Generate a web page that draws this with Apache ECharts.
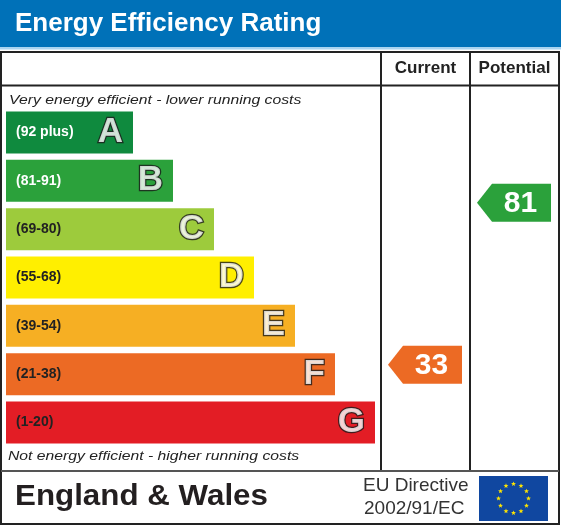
<!DOCTYPE html>
<html><head><meta charset="utf-8">
<script src="https://cdn.jsdelivr.net/npm/echarts@6/dist/echarts.min.js"></script>
<style>html,body{margin:0;padding:0;background:#fff}#c{width:561px;height:527px}</style>
</head><body><div id="c"></div>
<script>
// ---- data ----
const bands = ['A', 'B', 'C', 'D', 'E', 'F', 'G'];
const bandRanges = ['(92 plus)', '(81-91)', '(69-80)', '(55-68)', '(39-54)', '(21-38)', '(1-20)'];
const bandMin = [92, 81, 69, 55, 39, 21, 1];
const bandMax = [100, 91, 80, 68, 54, 38, 20];
const barLengths = [127, 167, 208, 248, 289, 329, 369];
const columns = ['Current', 'Potential'];
const ratings = [33, 81];

// ---- styles ----
const bandColors = ['#0f8a3e', '#2ba13b', '#9dcb3c', '#ffef00', '#f6af23', '#ec6a24', '#e31d25'];
const rangeTextColors = ['#ffffff', '#ffffff', '#222222', '#222222', '#222222', '#222222', '#222222'];
const FONT = '"Liberation Sans", Arial, Helvetica, sans-serif';

const chart = echarts.init(document.getElementById('c'), null, { renderer: 'canvas' });

const gridTop = 108.3, gridH = 338.4;

function starPoints(cx, cy, R, r) {
  const pts = [];
  for (let i = 0; i < 10; i++) {
    const a = -Math.PI / 2 + i * Math.PI / 5;
    const rr = i % 2 === 0 ? R : r;
    pts.push([cx + rr * Math.cos(a), cy + rr * Math.sin(a)]);
  }
  return pts;
}
const flagStars = [];
for (let k = 0; k < 12; k++) {
  const a = k * Math.PI / 6;
  flagStars.push({
    type: 'polygon', z: 10,
    shape: { points: starPoints(513.5 + 15 * Math.sin(a), 498.5 - 14.5 * Math.cos(a), 2.6, 1.1) },
    style: { fill: '#ffe500' }
  });
}

const option = {
  animation: false,
  backgroundColor: '#ffffff',
  grid: [
    { left: 6, top: gridTop, width: 375, height: gridH },
    { left: 381, top: gridTop, width: 178, height: gridH }
  ],
  xAxis: [
    { gridIndex: 0, type: 'value', min: 0, max: 375, show: false },
    {
      gridIndex: 1, type: 'category', data: columns, position: 'top',
      axisLine: { show: false }, axisTick: { show: false }, splitLine: { show: false },
      axisLabel: {
        interval: 0, hideOverlap: false, showMinLabel: true, showMaxLabel: true,
        margin: 39.5, verticalAlign: 'middle', color: '#222',
        fontFamily: FONT, fontWeight: 'bold', fontSize: 17
      }
    }
  ],
  yAxis: [
    { gridIndex: 0, type: 'category', data: bands, inverse: true, show: false },
    { gridIndex: 1, type: 'category', data: bands, inverse: true, show: false }
  ],
  series: [
    {
      type: 'bar', xAxisIndex: 0, yAxisIndex: 0,
      barCategoryGap: '13%',
      data: barLengths.map((v, i) => ({
        value: v,
        itemStyle: { color: bandColors[i] },
        label: { color: rangeTextColors[i] }
      })),
      label: {
        show: true, position: 'insideLeft', distance: 10,
        fontFamily: FONT, fontWeight: 'bold', fontSize: 14,
        formatter: p => bandRanges[p.dataIndex]
      }
    },
    {
      type: 'scatter', xAxisIndex: 0, yAxisIndex: 0,
      symbolSize: 0, silent: true,
      data: barLengths.map((v, i) => [v, i]),
      label: {
        show: true, position: 'left', distance: 10,
        formatter: p => bands[p.dataIndex],
        fontFamily: FONT, fontWeight: 'bold', fontSize: 35,
        color: '#ffffff', textBorderColor: '#1a1a1a', textBorderWidth: 2.5
      }
    },
    {
      type: 'custom', xAxisIndex: 1, yAxisIndex: 1,
      data: ratings.map((r, i) => [i, r]),
      renderItem: function (params, api) {
        const col = api.value(0), r = api.value(1);
        let b = bandMin.findIndex(m => r >= m);
        if (b < 0) b = bands.length - 1;
        const c = api.coord([col, b]);
        const sz = api.size([1, 1]);
        const colW = sz[0], bandH = sz[1];
        const frac = (bandMax[b] - r + 0.5) / (bandMax[b] - bandMin[b] + 1);
        const cy = c[1] - bandH / 2 + frac * bandH;
        const x0 = c[0] - colW / 2 + 7, x1 = c[0] + colW / 2 - 8;
        const tip = 15, h = 38;
        return {
          type: 'group',
          children: [
            {
              type: 'polygon',
              shape: { points: [[x0, cy], [x0 + tip, cy - h / 2], [x1, cy - h / 2], [x1, cy + h / 2], [x0 + tip, cy + h / 2]] },
              style: { fill: bandColors[b] }
            },
            {
              type: 'text', x: (x0 + tip + x1) / 2 - 1, y: cy + 1,
              style: {
                text: String(r), fill: '#ffffff', align: 'center', verticalAlign: 'middle',
                font: 'bold 30px ' + FONT
              }
            }
          ]
        };
      }
    }
  ],
  graphic: [
    { type: 'rect', shape: { x: 0, y: 0, width: 561, height: 47 }, style: { fill: '#0071b8' } },
    { type: 'rect', shape: { x: 0, y: 47, width: 561, height: 2.5 }, style: { fill: '#a9d4f0' } },
    {
      type: 'text', x: 15, y: 23.5,
      style: { text: 'Energy Efficiency Rating', fill: '#ffffff', font: 'bold 26px ' + FONT, verticalAlign: 'middle' }
    },
    { type: 'rect', shape: { x: 1, y: 52, width: 558, height: 472 }, style: { fill: null, stroke: '#222', lineWidth: 2 } },
    { type: 'line', shape: { x1: 1, y1: 85.5, x2: 559, y2: 85.5 }, style: { stroke: '#222', lineWidth: 2 } },
    { type: 'line', shape: { x1: 381, y1: 52, x2: 381, y2: 470 }, style: { stroke: '#222', lineWidth: 2 } },
    { type: 'line', shape: { x1: 470, y1: 52, x2: 470, y2: 470 }, style: { stroke: '#222', lineWidth: 2 } },
    { type: 'line', shape: { x1: 1, y1: 471, x2: 559, y2: 471 }, style: { stroke: '#555', lineWidth: 2 } },
    {
      type: 'text', x: 9, y: 100, scaleX: 1.21,
      style: { text: 'Very energy efficient - lower running costs', fill: '#222', font: 'italic 13px ' + FONT, verticalAlign: 'middle' }
    },
    {
      type: 'text', x: 8, y: 456.5, scaleX: 1.21,
      style: { text: 'Not energy efficient - higher running costs', fill: '#222', font: 'italic 13px ' + FONT, verticalAlign: 'middle' }
    },
    {
      type: 'text', x: 15, y: 497, scaleX: 1.08,
      style: { text: 'England & Wales', fill: '#231f20', font: 'bold 29px ' + FONT, verticalAlign: 'middle' }
    },
    {
      type: 'text', x: 363, y: 486,
      style: { text: 'EU Directive', fill: '#333', font: '19px ' + FONT, verticalAlign: 'middle' }
    },
    {
      type: 'text', x: 364, y: 508.5,
      style: { text: '2002/91/EC', fill: '#333', font: '19px ' + FONT, verticalAlign: 'middle' }
    },
    { type: 'rect', z: 9, shape: { x: 479, y: 476, width: 69, height: 45 }, style: { fill: '#1047a0' } }
  ].concat(flagStars)
};
chart.setOption(option);
</script>
</body></html>
